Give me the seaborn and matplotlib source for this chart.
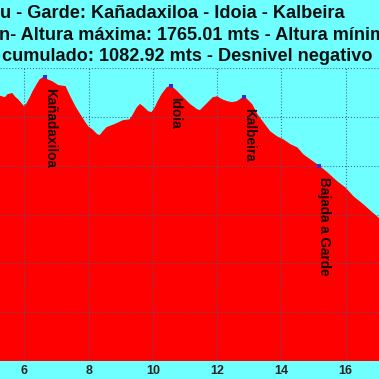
import matplotlib
matplotlib.use("Agg")
import matplotlib.pyplot as plt
import seaborn as sns
import pandas as pd

# Profile data (distance in km, elevation in m)
km = [5.20, 5.244, 5.40, 5.49, 5.62, 5.71, 5.80, 5.93, 5.99, 6.08, 6.18, 6.27, 6.395, 6.49,
      6.64, 6.71, 6.86, 7.05, 7.27, 7.42, 7.58, 7.73, 7.89, 7.98, 8.11, 8.26, 8.355,
      8.45, 8.57, 8.73, 8.88, 9.07, 9.29, 9.35, 9.51, 9.60, 9.69, 9.85, 9.97, 10.07,
      10.16, 10.28, 10.44, 10.55, 10.69, 10.84, 11.00, 11.155, 11.25, 11.37, 11.47,
      11.56, 11.72, 11.87, 11.995, 12.15, 12.31, 12.46, 12.62, 12.71, 12.84, 12.93,
      13.08, 13.24, 13.43, 13.64, 13.86, 14.05, 14.27, 14.485, 14.67, 14.89, 15.17,
      15.42, 15.73, 15.98, 16.23, 16.54, 16.82, 17.00, 17.10]
elev = [1686, 1684, 1678, 1691, 1695, 1680, 1670, 1650, 1641, 1654, 1678, 1703, 1732, 1752,
        1765.01, 1752, 1744, 1728, 1724, 1682, 1641, 1609, 1576, 1559, 1547, 1527, 1523,
        1539, 1556, 1564, 1572, 1584, 1588, 1600, 1637, 1650, 1641, 1621, 1617, 1637,
        1662, 1691, 1719, 1726, 1711, 1691, 1670, 1650, 1641, 1629, 1625,
        1637, 1658, 1678, 1682, 1670, 1662, 1658, 1662, 1670, 1682, 1670,
        1650, 1609, 1576, 1539, 1518, 1506, 1486, 1473, 1445, 1424, 1398,
        1371, 1334, 1309, 1273, 1240, 1207, 1187, 1170]

# Waypoints
wp_names = ["Kañadaxiloa", "Idoia", "Kalbeira", "Bajada a Garde"]
wp_km = [6.64, 10.55, 12.84, 15.17]
wp_elev = [1765.01, 1726, 1682, 1398]

x_ticks = [6, 8, 10, 12, 14, 16]
y_grid = [600, 800, 1000, 1200, 1400, 1600, 1800]

title_lines = [
    "u - Garde: Kañadaxiloa - Idoia - Kalbeira",
    "n- Altura máxima: 1765.01 mts - Altura mínima",
    "cumulado: 1082.92 mts - Desnivel negativo",
]

sns.set_style("white")
plt.rcParams['font.family'] = ['Liberation Sans', 'DejaVu Sans']

BG = '#70FFFF'
fig = plt.figure(figsize=(3.79, 3.79), dpi=100, facecolor=BG)
ax = fig.add_axes([0, 0.0475, 1, 0.773])
ax.set_facecolor(BG)

df = pd.DataFrame({"km": km, "elev": elev})
ax.fill_between(df["km"], df["elev"], 600, color='#FF0000', linewidth=0, zorder=2)
sns.lineplot(data=df, x="km", y="elev", color='#FF0000', linewidth=0.8, ax=ax, zorder=3)

wp = pd.DataFrame({"km": wp_km, "elev": wp_elev, "name": wp_names})
sns.scatterplot(data=wp, x="km", y="elev", color='#3a2ad0', s=10, marker='s',
                linewidth=0, ax=ax, zorder=5)
for n, xk, ye in zip(wp_names, wp_km, wp_elev):
    ax.annotate(n, (xk, ye), xytext=(5, -11), textcoords='offset pixels',
                rotation=270, ha='center', va='top', fontsize=9.8,
                fontweight='bold', color='#1a0505', zorder=6)

ax.set_xlim(5.244, 17.036)
ax.set_ylim(600, 1800)
ax.set_xticks(x_ticks)
ax.set_xticklabels([str(t) for t in x_ticks], fontsize=9, fontweight='bold')
ax.set_yticks(y_grid)
ax.set_yticklabels([])
ax.tick_params(axis='both', length=0, pad=3)
ax.grid(True, color='#3d5f8a', linestyle=':', linewidth=0.8, alpha=0.9, zorder=4)
ax.set_axisbelow(False)
for s in ax.spines.values():
    s.set_visible(False)
ax.set_xlabel("")
ax.set_ylabel("")

baselines = [17.5, 39.5, 61.0]
xstarts = [0.5, -1.0, 2.5]
for t, b, xs in zip(title_lines, baselines, xstarts):
    fig.text(xs / 379, 1 - b / 379, t, ha='left', va='baseline', fontsize=13.1,
             fontweight='bold', color='#111111')

fig.savefig("out.png", dpi=100, facecolor=BG)
